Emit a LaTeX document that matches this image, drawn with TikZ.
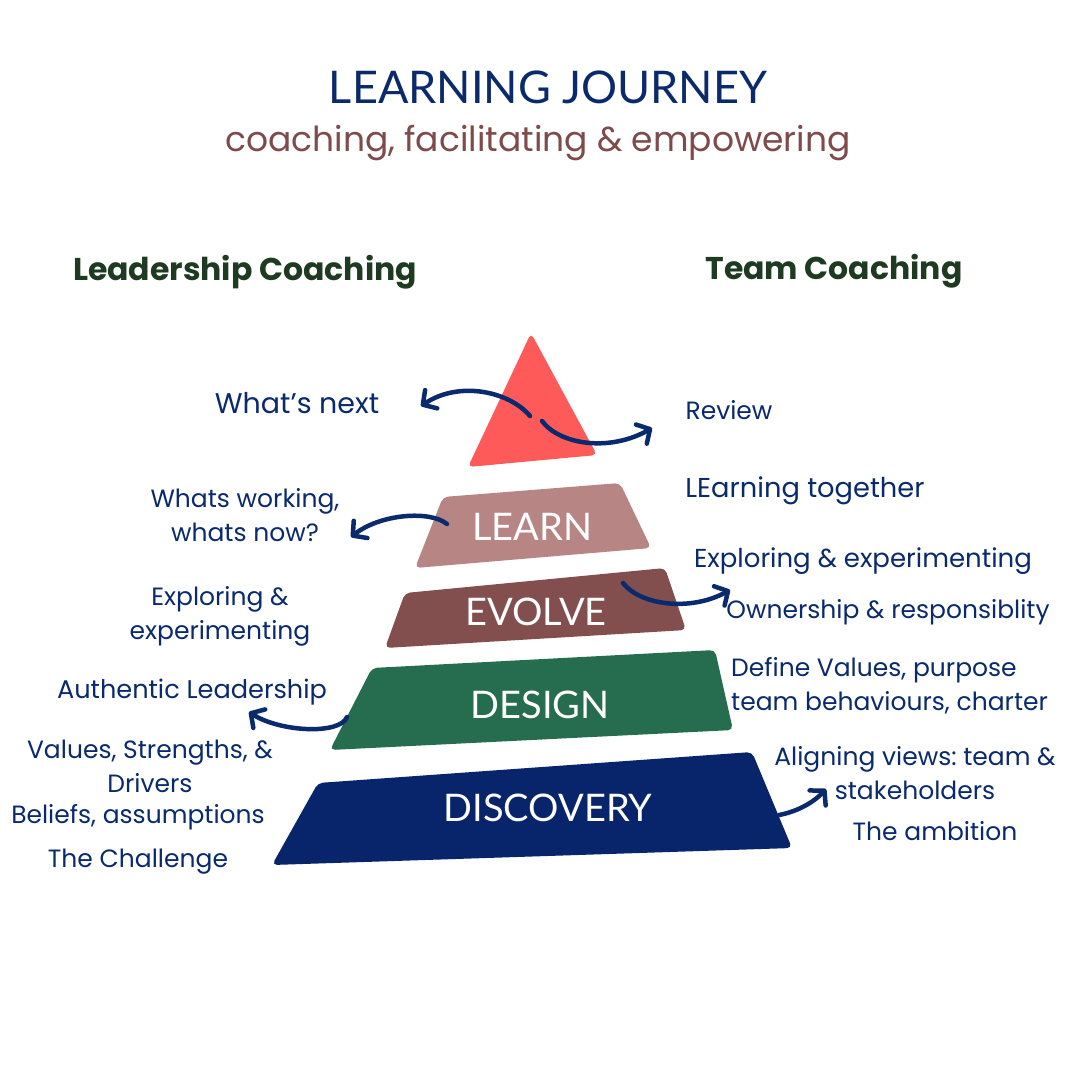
\documentclass[tikz,border=0pt]{standalone}
\usepackage{fontspec}
\setmainfont{Poppins}
\newfontfamily\titlefont{Lato}
\usetikzlibrary{arrows.meta}
\definecolor{navy}{HTML}{0A2A6E}
\definecolor{titleblue}{HTML}{0B2A6B}
\definecolor{subbrown}{HTML}{7E4A4A}
\definecolor{headgreen}{HTML}{1E3A20}
\definecolor{coral}{HTML}{FF5A5A}
\definecolor{learnc}{HTML}{B88585}
\definecolor{evolvec}{HTML}{834E4E}
\definecolor{designc}{HTML}{256D4E}
\definecolor{discc}{HTML}{08246B}
\begin{document}
\frenchspacing
\begin{tikzpicture}[x=1pt,y=-1pt,
  lbl/.style={text=navy,font=\fontsize{25}{34}\selectfont,align=center,inner sep=0pt},
  head/.style={text=headgreen,font=\bfseries\fontsize{31.5}{36}\selectfont,inner sep=0pt},
  tier/.style={rounded corners=5pt},
  tiertext/.style={text=white,font=\titlefont\fontsize{38}{40}\selectfont,inner sep=0pt},
  arr/.style={draw=navy,line width=4.5pt,line cap=round,-{Straight Barb[length=10pt,width=22pt,line cap=round,line join=round]}}]
\path[fill=white] (0,0) rectangle (1080,1080);
\useasboundingbox (0,0) rectangle (1080,1080);

% titles
\node[font=\titlefont\fontsize{45}{50}\selectfont,text=titleblue,inner sep=0pt] (title) at (548,87) {LEARNING JOURNEY};
\node[font=\fontsize{34.5}{38}\selectfont,text=subbrown,inner sep=0pt] (subtitle) at (538,143) {coaching, facilitating \& empowering};
\node[head] (lead) at (245,272) {Leadership Coaching};
\node[head] (team) at (834,271) {Team Coaching};

% pyramid
\fill[coral,tier] (531,333) -- (597,455) -- (468,467) -- cycle;
\fill[learnc,tier] (443,497) -- (620,483) -- (651,548) -- (415,568) -- cycle;
\fill[evolvec,tier] (405,593) -- (665,568) -- (686,630) -- (385,648) -- cycle;
\fill[designc,tier] (372,668) -- (715,650) -- (733,730) -- (330,750) -- cycle;
\fill[discc,tier] (318,783) -- (752,752) -- (792,848) -- (272,865) -- cycle;

\node[tiertext] (learn) at (532,527) {LEARN};
\node[tiertext] (evolve) at (536,612) {EVOLVE};
\node[tiertext] (design) at (540,705) {DESIGN};
\node[tiertext] (discovery) at (548,808) {DISCOVERY};

% labels
\node[lbl,font=\fontsize{28.5}{34}\selectfont] (whatsnext) at (297,403) {What's next};
\node[lbl] (review) at (729,410) {Review};
\node[lbl] (working) at (245,515) {Whats working,\\whats now?};
\node[lbl,font=\fontsize{27.3}{34}\selectfont] (learntog) at (805,491) {LEarning together};
\node[lbl] (explL) at (220,616) {Exploring \&\\experimenting};
\node[lbl,font=\fontsize{26}{34}\selectfont] (explR) at (863,561) {Exploring \& experimenting};
\node[lbl] (owner) at (888,612) {Ownership \& responsiblity};
\node[lbl,align=left,anchor=west] (define) at (731,686) {Define Values, purpose\\team behaviours, charter};
\node[lbl,font=\fontsize{25.6}{34}\selectfont] (auth) at (192,692) {Authentic Leadership};
\node[lbl] (values) at (150,766) {Values, Strengths, \&\\Drivers};
\node[lbl] (beliefs) at (138,817) {Beliefs, assumptions};
\node[lbl] (challenge) at (138,862) {The Challenge};
\node[lbl] (align) at (915,773) {Aligning views: team \&\\stakeholders};
\node[lbl] (ambition) at (935,831) {The ambition};

% arrows
\coordinate (a1s) at (530,416); \coordinate (a1e) at (421,406);
\coordinate (a2s) at (542,421); \coordinate (a2e) at (652,428);
\coordinate (a3s) at (447,524); \coordinate (a3e) at (351,537);
\coordinate (a4s) at (623,583); \coordinate (a4e) at (730,590);
\coordinate (a5s) at (347,717); \coordinate (a5e) at (249,712);
\coordinate (a6s) at (779,815); \coordinate (a6e) at (826,789);
\draw[arr] (a1s) .. controls (510,392) and (460,380) .. (a1e);
\draw[arr] (a2s) .. controls (560,445) and (610,452) .. (a2e);
\draw[arr] (a3s) .. controls (430,510) and (380,514) .. (a3e);
\draw[arr] (a4s) .. controls (640,605) and (690,612) .. (a4e);
\draw[arr] (a5s) .. controls (340,735) and (280,732) .. (a5e);
\draw[arr] (a6s) .. controls (795,812) and (812,804) .. (a6e);
\end{tikzpicture}
\end{document}
